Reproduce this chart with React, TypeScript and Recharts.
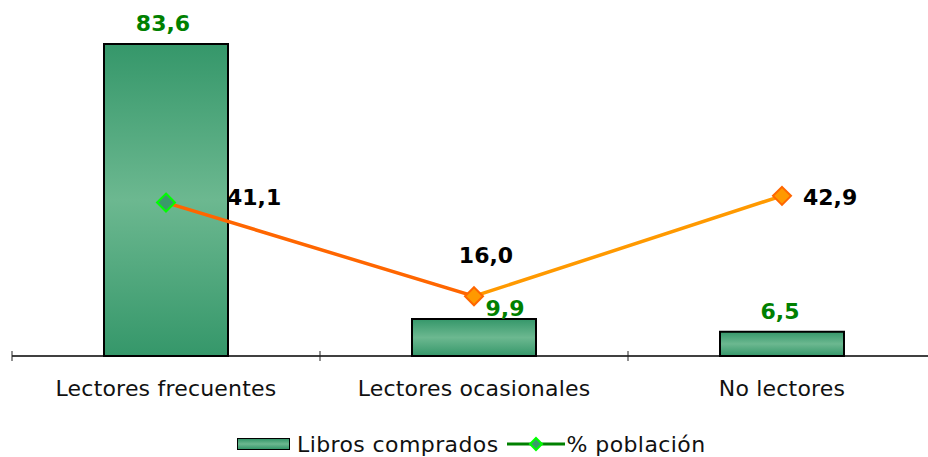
import React from 'react';
import { ComposedChart, Bar, Line, XAxis, YAxis, LabelList } from 'recharts';

const categories = ['Lectores frecuentes', 'Lectores ocasionales', 'No lectores'];
const librosComprados = [83.6, 9.9, 6.5];
const poblacion = [41.1, 16.0, 42.9];

const data = categories.map((name, i) => ({
  name,
  libros: librosComprados[i],
  poblacion: poblacion[i],
}));

const W = 940;
const H = 457;
const margin = { top: 20, right: 4, left: 12, bottom: 41 };
const BAND = (W - margin.left - margin.right) / categories.length;
const FONT = '"DejaVu Sans", Verdana, sans-serif';

const fmt = (v: number) => v.toFixed(1).replace('.', ',');

// label nudges, picked by eye to sit like the original
const barLabelShift = [
  { dx: -3, dy: -20 },
  { dx: 31, dy: -11 },
  { dx: -2, dy: -20 },
];
const lineLabelShift = [
  { dx: 61, dy: -5, anchor: 'start' },
  { dx: 12, dy: -41, anchor: 'middle' },
  { dx: 21, dy: 2, anchor: 'start' },
];
const markerColors = [
  { fill: '#3A9A6A', stroke: '#00FF00' },
  { fill: '#FF9900', stroke: '#FF6600' },
  { fill: '#FF9900', stroke: '#FF6600' },
];

const Diamond = ({ cx, cy, r, fill, stroke }: any) => (
  <path
    d={`M${cx},${cy - r} L${cx + r},${cy} L${cx},${cy + r} L${cx - r},${cy} Z`}
    fill={fill}
    stroke={stroke}
    strokeWidth={2}
  />
);

const CategoryTick = (props: any) => {
  const { x, y, payload, index } = props;
  const left = x - BAND / 2;
  const right = x + BAND / 2;
  return (
    <g>
      <line x1={left} x2={left} y1={y - 5} y2={y + 5} stroke="#222" />
      {index === categories.length - 1 && (
        <line x1={right} x2={right} y1={y - 5} y2={y + 5} stroke="#222" />
      )}
      <text
        x={x}
        y={y + 32}
        textAnchor="middle"
        dominantBaseline="central"
        fontSize={22}
        letterSpacing={0.2}
        fontFamily={FONT}
        fill="#111"
      >
        {payload.value}
      </text>
    </g>
  );
};

const BarLabel = (props: any) => {
  const { x, y, width, value, index } = props;
  const s = barLabelShift[index];
  return (
    <text
      x={x + width / 2 + s.dx}
      y={y + s.dy}
      textAnchor="middle"
      dominantBaseline="central"
      fontSize={22}
      fontWeight="bold"
      fontFamily={FONT}
      fill="#008000"
    >
      {fmt(value)}
    </text>
  );
};

const LineLabel = (props: any) => {
  const { x, y, value, index } = props;
  const s = lineLabelShift[index];
  return (
    <text
      x={x + s.dx}
      y={y + s.dy}
      textAnchor={s.anchor}
      dominantBaseline="central"
      fontSize={22}
      fontWeight="bold"
      fontFamily={FONT}
      fill="#000"
    >
      {fmt(value)}
    </text>
  );
};

const renderDot = (p: any) => {
  const c = markerColors[p.index];
  return <Diamond key={`dot-${p.index}`} cx={p.cx} cy={p.cy} r={9} fill={c.fill} stroke={c.stroke} />;
};

const ChartLegend = () => (
  <div
    style={{
      position: 'absolute',
      left: 237,
      top: 433,
      height: 22,
      display: 'flex',
      alignItems: 'center',
      fontFamily: FONT,
      fontSize: 22,
      letterSpacing: 0.4,
      color: '#111',
      whiteSpace: 'nowrap',
    }}
  >
    <span
      style={{
        display: 'inline-block',
        width: 51,
        height: 10,
        border: '1.5px solid #000',
        background: 'linear-gradient(to bottom, #35976A, #6CB890, #35976A)',
        marginRight: 7,
      }}
    />
    <span>Libros comprados</span>
    <svg width={58} height={20} style={{ marginLeft: 8, marginRight: 2 }}>
      <line x1={0} x2={58} y1={10} y2={10} stroke="#008000" strokeWidth={3} />
      <Diamond cx={29} cy={10} r={6} fill="#3A9A6A" stroke="#00FF00" />
    </svg>
    <span>% población</span>
  </div>
);

export default function App() {
  return (
    <div
      style={{
        position: 'absolute',
        left: 0,
        top: 0,
        width: 928,
        height: H,
        overflow: 'hidden',
        background: '#fff',
      }}
    >
      <ComposedChart width={W} height={H} data={data} margin={margin}>
        <defs>
          <linearGradient id="barGrad" x1="0" y1="0" x2="0" y2="1">
            <stop offset="0%" stopColor="#35976A" />
            <stop offset="50%" stopColor="#6CB890" />
            <stop offset="100%" stopColor="#35976A" />
          </linearGradient>
          <linearGradient id="lineGrad" x1="0" y1="0" x2="1" y2="0">
            <stop offset="0%" stopColor="#FF6600" />
            <stop offset="50%" stopColor="#FF6600" />
            <stop offset="50%" stopColor="#FF9900" />
            <stop offset="100%" stopColor="#FF9900" />
          </linearGradient>
        </defs>
        <XAxis
          dataKey="name"
          axisLine={{ stroke: '#000', strokeWidth: 1.3 }}
          tickLine={false}
          tickSize={0}
          tickMargin={0}
          height={60}
          interval={0}
          tick={<CategoryTick />}
        />
        <YAxis hide domain={[0, 90]} />
        <Bar
          dataKey="libros"
          name="Libros comprados"
          barSize={124}
          fill="url(#barGrad)"
          stroke="#000"
          strokeWidth={2}
          isAnimationActive={false}
        >
          <LabelList dataKey="libros" content={<BarLabel />} />
        </Bar>
        <Line
          dataKey="poblacion"
          name="% población"
          type="linear"
          stroke="url(#lineGrad)"
          strokeWidth={3.5}
          dot={renderDot}
          activeDot={false}
          isAnimationActive={false}
        >
          <LabelList dataKey="poblacion" content={<LineLabel />} />
        </Line>
      </ComposedChart>
      <ChartLegend />
    </div>
  );
}
